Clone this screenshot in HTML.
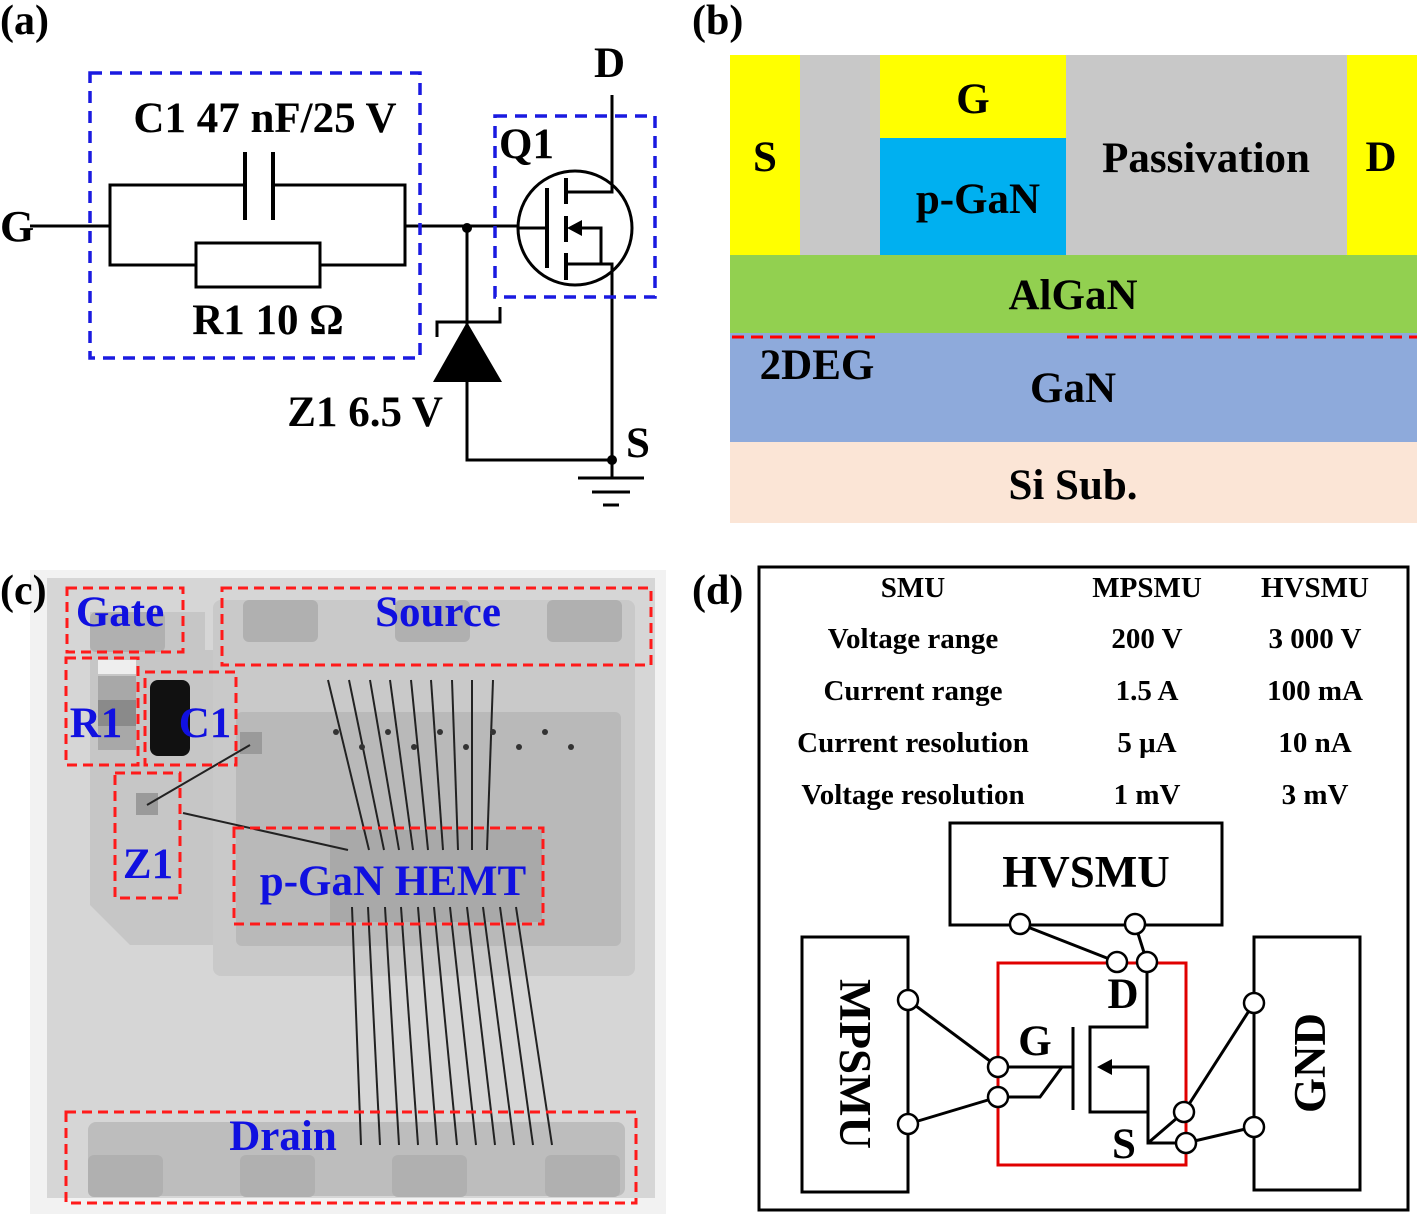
<!DOCTYPE html>
<html><head><meta charset="utf-8"><style>
html,body{margin:0;padding:0;background:#fff}
svg{display:block}
text{font-family:"Liberation Serif",serif;font-weight:bold}
</style></head><body>
<svg width="1417" height="1214" viewBox="0 0 1417 1214" xmlns="http://www.w3.org/2000/svg">
<!-- ========== (a) ========== -->
<text x="0" y="34" font-size="42">(a)</text>
<g stroke="#000" stroke-width="3" fill="none">
<line x1="30" y1="226" x2="110" y2="226"/>
<polyline points="245,185 110,185 110,265 196,265"/>
<polyline points="273,185 405,185 405,265 320,265"/>
<rect x="196" y="243" width="124" height="44"/>
<line x1="405" y1="226" x2="518" y2="226"/>
<line x1="245" y1="152" x2="245" y2="220" stroke-width="4"/>
<line x1="273" y1="152" x2="273" y2="220" stroke-width="4"/>
<circle cx="575" cy="228" r="57"/>
<line x1="518" y1="228" x2="547" y2="228"/>
<line x1="547" y1="188" x2="547" y2="268" stroke-width="4"/>
<line x1="566" y1="178" x2="566" y2="204" stroke-width="4"/>
<line x1="566" y1="216" x2="566" y2="242" stroke-width="4"/>
<line x1="566" y1="253" x2="566" y2="280" stroke-width="4"/>
<polyline points="566,192 612,192 612,95"/>
<polyline points="566,264 612,264 612,460 467,460 467,228"/>
<polyline points="578,228 601,228 601,264"/>
<polyline points="437,337 437,322 500,322 500,307"/>
<line x1="578" y1="478" x2="644" y2="478"/>
<line x1="592" y1="492" x2="630" y2="492"/>
<line x1="603" y1="505" x2="619" y2="505"/>
<line x1="612" y1="460" x2="612" y2="478"/>
</g>
<polygon points="567,228 582,220 582,236" fill="#000"/>
<polygon points="467,322 433,382 502,382" fill="#000"/>
<circle cx="467" cy="228" r="5" fill="#000"/>
<circle cx="612" cy="460" r="5" fill="#000"/>
<g stroke="#1a1ae0" stroke-width="3.5" fill="none" stroke-dasharray="12,8">
<rect x="90" y="73" width="330" height="285"/>
<rect x="495" y="116" width="160" height="181"/>
</g>
<text x="0" y="241" font-size="44">G</text>
<text x="265" y="132" font-size="43" text-anchor="middle">C1 47 nF/25 V</text>
<text x="268" y="334" font-size="43" text-anchor="middle">R1 10 Ω</text>
<text x="499" y="158" font-size="43">Q1</text>
<text x="594" y="77" font-size="43">D</text>
<text x="626" y="457" font-size="43">S</text>
<text x="443" y="426" font-size="43" text-anchor="end">Z1 6.5 V</text>

<!-- ========== (b) ========== -->
<text x="692" y="34" font-size="42">(b)</text>
<rect x="730" y="55" width="70" height="200" fill="#ffff00"/>
<rect x="800" y="55" width="80" height="200" fill="#c8c8c8"/>
<rect x="880" y="55" width="186" height="83" fill="#ffff00"/>
<rect x="880" y="138" width="186" height="117" fill="#00b0f0"/>
<rect x="1066" y="55" width="281" height="200" fill="#c8c8c8"/>
<rect x="1347" y="55" width="70" height="200" fill="#ffff00"/>
<rect x="730" y="255" width="687" height="78" fill="#92d050"/>
<rect x="730" y="333" width="687" height="109" fill="#8eaadb"/>
<rect x="730" y="442" width="687" height="81" fill="#fbe5d6"/>
<g stroke="#ff0000" stroke-width="3" stroke-dasharray="12,7">
<line x1="732" y1="337" x2="875" y2="337"/>
<line x1="1067" y1="337" x2="1417" y2="337"/>
</g>
<g font-size="43" text-anchor="middle">
<text x="765" y="171">S</text>
<text x="973" y="113">G</text>
<text x="978" y="213">p-GaN</text>
<text x="1206" y="172">Passivation</text>
<text x="1381" y="171">D</text>
<text x="1073" y="309">AlGaN</text>
<text x="817" y="379">2DEG</text>
<text x="1073" y="402">GaN</text>
<text x="1073" y="499">Si Sub.</text>
</g>

<!-- ========== (c) ========== -->
<rect x="30" y="570" width="636" height="644" fill="#f2f2f2"/>
<rect x="47" y="578" width="608" height="620" fill="#d6d6d6"/>
<polygon points="90,612 205,612 205,650 215,650 215,945 130,945 90,905" fill="#c6c6c6"/>
<rect x="213" y="600" width="422" height="376" rx="8" fill="#c9c9c9"/>
<rect x="236" y="712" width="385" height="234" rx="6" fill="#b9b9b9"/>
<rect x="330" y="830" width="212" height="92" fill="#a9a9a9"/>
<rect x="88" y="1122" width="537" height="74" rx="8" fill="#bdbdbd"/>
<g fill="#b0b0b0">
<rect x="90" y="612" width="75" height="40" rx="6"/>
<rect x="243" y="600" width="75" height="42" rx="6"/>
<rect x="395" y="600" width="75" height="42" rx="6"/>
<rect x="547" y="600" width="75" height="42" rx="6"/>
<rect x="88" y="1155" width="75" height="42" rx="6"/>
<rect x="240" y="1155" width="75" height="42" rx="6"/>
<rect x="392" y="1155" width="75" height="42" rx="6"/>
<rect x="545" y="1155" width="75" height="42" rx="6"/>
</g>
<rect x="98" y="660" width="38" height="14" fill="#eeeeee"/>
<rect x="98" y="676" width="38" height="74" fill="#a8a8a8"/>
<rect x="98" y="700" width="38" height="26" fill="#8a8a8a"/>
<rect x="150" y="680" width="40" height="76" rx="8" fill="#111"/>
<rect x="240" y="732" width="22" height="22" fill="#9a9a9a"/>
<rect x="136" y="793" width="22" height="22" fill="#9a9a9a"/>
<g stroke="#222" stroke-width="2" fill="none">
<line x1="250" y1="745" x2="147" y2="805"/>
<line x1="183" y1="813" x2="348" y2="850"/>
<line x1="328" y1="680" x2="369" y2="850"/>
<line x1="349" y1="680" x2="384" y2="850"/>
<line x1="370" y1="680" x2="399" y2="850"/>
<line x1="390" y1="680" x2="413" y2="850"/>
<line x1="411" y1="680" x2="428" y2="850"/>
<line x1="431" y1="680" x2="443" y2="850"/>
<line x1="452" y1="680" x2="458" y2="850"/>
<line x1="472" y1="680" x2="472" y2="850"/>
<line x1="493" y1="680" x2="487" y2="850"/>
<line x1="352" y1="907" x2="361" y2="1145"/>
<line x1="368" y1="907" x2="380" y2="1145"/>
<line x1="385" y1="907" x2="399" y2="1145"/>
<line x1="401" y1="907" x2="418" y2="1145"/>
<line x1="418" y1="907" x2="437" y2="1145"/>
<line x1="434" y1="907" x2="457" y2="1145"/>
<line x1="450" y1="907" x2="476" y2="1145"/>
<line x1="467" y1="907" x2="495" y2="1145"/>
<line x1="483" y1="907" x2="514" y2="1145"/>
<line x1="500" y1="907" x2="533" y2="1145"/>
<line x1="516" y1="907" x2="552" y2="1145"/>
</g>
<g fill="#333">
<circle cx="336" cy="732" r="3"/><circle cx="388" cy="732" r="3"/><circle cx="440" cy="732" r="3"/><circle cx="493" cy="732" r="3"/><circle cx="545" cy="732" r="3"/>
<circle cx="362" cy="747" r="3"/><circle cx="414" cy="747" r="3"/><circle cx="466" cy="747" r="3"/><circle cx="519" cy="747" r="3"/><circle cx="571" cy="747" r="3"/>
</g>
<g stroke="#ff1a1a" stroke-width="3" fill="none" stroke-dasharray="10,6">
<rect x="67" y="588" width="116" height="64"/>
<rect x="222" y="588" width="429" height="77"/>
<rect x="66" y="658" width="72" height="107"/>
<rect x="145" y="672" width="91" height="93"/>
<rect x="115" y="773" width="65" height="125"/>
<rect x="234" y="828" width="309" height="96"/>
<rect x="66" y="1112" width="570" height="91"/>
</g>
<g fill="#1010e0" font-size="43" text-anchor="middle">
<text x="120" y="626">Gate</text>
<text x="438" y="626">Source</text>
<text x="96" y="737">R1</text>
<text x="205" y="737">C1</text>
<text x="148" y="878">Z1</text>
<text x="393" y="895">p-GaN HEMT</text>
<text x="283" y="1150">Drain</text>
</g>
<text x="0" y="604" font-size="42">(c)</text>

<!-- ========== (d) ========== -->
<text x="692" y="604" font-size="42">(d)</text>
<rect x="759" y="567" width="649" height="643" fill="none" stroke="#000" stroke-width="3"/>
<g font-size="29" text-anchor="middle">
<text x="913" y="597">SMU</text><text x="1147" y="597">MPSMU</text><text x="1315" y="597">HVSMU</text>
<text x="913" y="648">Voltage range</text><text x="1147" y="648">200 V</text><text x="1315" y="648">3 000 V</text>
<text x="913" y="700">Current range</text><text x="1147" y="700">1.5 A</text><text x="1315" y="700">100 mA</text>
<text x="913" y="752">Current resolution</text><text x="1147" y="752">5 μA</text><text x="1315" y="752">10 nA</text>
<text x="913" y="804">Voltage resolution</text><text x="1147" y="804">1 mV</text><text x="1315" y="804">3 mV</text>
</g>
<g stroke="#000" stroke-width="3" fill="none">
<rect x="950" y="823" width="272" height="102"/>
<rect x="802" y="937" width="106" height="255"/>
<rect x="1254" y="937" width="106" height="253"/>
<line x1="1020" y1="924" x2="1117" y2="962"/>
<line x1="1135" y1="924" x2="1147" y2="962"/>
<line x1="908" y1="1000" x2="998" y2="1067"/>
<line x1="908" y1="1124" x2="998" y2="1097"/>
<line x1="1254" y1="1003" x2="1184" y2="1112"/>
<line x1="1254" y1="1127" x2="1186" y2="1143"/>
<polyline points="1147,962 1147,1027 1090,1027 1090,1112 1148,1112"/>
<polyline points="1108,1067 1148,1067 1148,1143 1186,1143"/>
<line x1="1148" y1="1143" x2="1184" y2="1112"/>
<line x1="1073" y1="1027" x2="1073" y2="1110"/>
<line x1="998" y1="1067" x2="1073" y2="1067"/>
<polyline points="998,1097 1040,1097 1062,1067"/>
</g>
<polygon points="1097,1067 1112,1059 1112,1075" fill="#000"/>
<rect x="998" y="963" width="188" height="202" fill="none" stroke="#e00000" stroke-width="3"/>
<g stroke="#000" stroke-width="2.5" fill="#fff">
<circle cx="1020" cy="924" r="10"/><circle cx="1135" cy="924" r="10"/>
<circle cx="1117" cy="962" r="10"/><circle cx="1147" cy="962" r="10"/>
<circle cx="908" cy="1000" r="10"/><circle cx="908" cy="1124" r="10"/>
<circle cx="998" cy="1067" r="10"/><circle cx="998" cy="1097" r="10"/>
<circle cx="1184" cy="1112" r="10"/><circle cx="1186" cy="1143" r="10"/>
<circle cx="1254" cy="1003" r="10"/><circle cx="1254" cy="1127" r="10"/>
</g>
<text x="1086" y="887" font-size="45" text-anchor="middle">HVSMU</text>
<text x="1123" y="1008" font-size="43" text-anchor="middle">D</text>
<text x="1035" y="1055" font-size="43" text-anchor="middle">G</text>
<text x="1124" y="1158" font-size="43" text-anchor="middle">S</text>
<text transform="translate(840,1064) rotate(90)" font-size="45" text-anchor="middle">MPSMU</text>
<text transform="translate(1325,1063) rotate(-90)" font-size="45" text-anchor="middle">GND</text>
</svg>
</body></html>
